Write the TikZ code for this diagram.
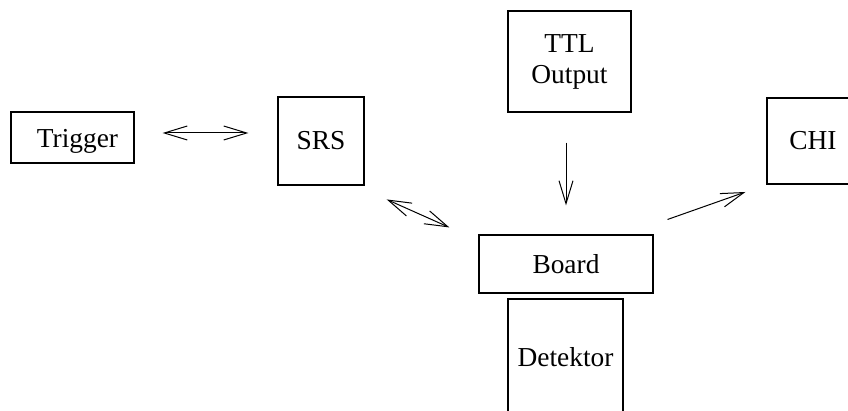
\documentclass[tikz,border=0pt]{standalone}
\usepackage{fontspec}
\setmainfont{Liberation Serif}
\usetikzlibrary{arrows.meta}
\tikzset{
  blk/.style={draw, line width=0.6pt, inner sep=0pt, align=center,
    font=\fontsize{13.7pt}{15.5pt}\selectfont},
  pf/.style={line width=0.5pt, arrows={-Straight Barb[length=11.5pt, width=7pt]}},
  ppf/.style={line width=0.5pt, arrows={Straight Barb[length=11.5pt, width=7pt]-Straight Barb[length=11.5pt, width=7pt]}}
}
\begin{document}
\begin{tikzpicture}[x=0.5pt, y=-0.5pt]
  \clip (0,0) rectangle (848,411);
  \useasboundingbox (0,0) rectangle (848,411);

  \node[blk, minimum width=61.5pt, minimum height=25.5pt, text height=10pt, text depth=0pt] (trigger) at (72.5,137.5) {\kern5pt Trigger};
  \node[blk, minimum width=43pt, minimum height=44pt] (srs) at (321,141) {SRS};
  \node[blk, minimum width=61.5pt, minimum height=50.5pt] (ttl) at (569.5,61.5) {TTL\\Output};
  \node[blk, minimum width=46pt, minimum height=43pt] (chi) at (813,141) {CHI};
  \node[blk, minimum width=87pt, minimum height=29pt] (board) at (566,264) {Board};
  \node[blk, minimum width=57.5pt, minimum height=58pt] (det) at (565.5,357) {Detektor};

  \draw[ppf, shorten <=14pt, shorten >=14.5pt] ([yshift=2.25pt]trigger.east) -- ([yshift=4pt]srs.west);
  \draw[ppf, shorten <=12.1pt, shorten >=15.9pt] ([yshift=-2pt]srs.south east) -- ([yshift=-3pt]board.north west);
  \draw[pf, shorten <=15pt, shorten >=14.5pt] (board.north |- ttl.south) -- (board.north);
  \draw[pf, shorten <=7.4pt, shorten >=11.1pt] ([yshift=5pt]board.north east) -- (chi.south west);
\end{tikzpicture}
\end{document}
